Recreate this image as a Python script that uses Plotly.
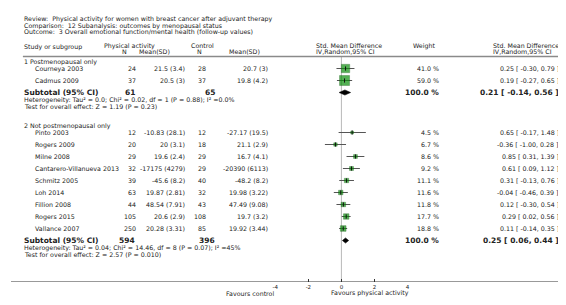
import plotly.graph_objects as go

W, H = 566, 305

# ---------------- data ----------------
review_txt = "Review:  Physical activity for women with breast cancer after adjuvant therapy"
comparison_txt = "Comparison:  12 Subanalysis: outcomes by menopausal status"
outcome_txt = "Outcome:  3 Overall emotional function/mental health (follow-up values)"

g1_title = "1 Postmenopausal only"
g1_studies = ["Courneya 2003", "Cadmus 2009"]
g1_pa_n = [24, 37]
g1_pa_mean = ["21.5 (3.4)", "20.5 (3)"]
g1_ct_n = [28, 37]
g1_ct_mean = ["20.7 (3)", "19.8 (4.2)"]
g1_weight = [41.0, 59.0]
g1_smd = [0.25, 0.19]
g1_lo = [-0.30, -0.27]
g1_hi = [0.79, 0.65]
g1_sub_n = [61, 65]
g1_sub_ci = [0.21, -0.14, 0.56]
g1_het = "Heterogeneity: Tau² = 0.0; Chi² = 0.02, df = 1 (P = 0.88); I² =0.0%"
g1_test = "Test for overall effect: Z = 1.19 (P = 0.23)"

g2_title = "2 Not postmenopausal only"
g2_studies = ["Pinto 2003", "Rogers 2009", "Milne 2008", "Cantarero-Villanueva 2013",
              "Schmitz 2005", "Loh 2014", "Fillion 2008", "Rogers 2015", "Vallance 2007"]
g2_pa_n = [12, 20, 29, 32, 39, 63, 44, 105, 250]
g2_pa_mean = ["-10.83 (28.1)", "20 (3.1)", "19.6 (2.4)", "-17175 (4279)", "-45.6 (8.2)",
              "19.87 (2.81)", "48.54 (7.91)", "20.6 (2.9)", "20.28 (3.31)"]
g2_ct_n = [12, 18, 29, 29, 40, 32, 43, 108, 85]
g2_ct_mean = ["-27.17 (19.5)", "21.1 (2.9)", "16.7 (4.1)", "-20390 (6113)", "-48.2 (8.2)",
              "19.98 (3.22)", "47.49 (9.08)", "19.7 (3.2)", "19.92 (3.44)"]
g2_weight = [4.5, 6.7, 8.6, 9.2, 11.1, 11.6, 11.8, 17.7, 18.8]
g2_smd = [0.65, -0.36, 0.85, 0.61, 0.31, -0.04, 0.12, 0.29, 0.11]
g2_lo = [-0.17, -1.00, 0.31, 0.09, -0.13, -0.46, -0.30, 0.02, -0.14]
g2_hi = [1.48, 0.28, 1.39, 1.12, 0.76, 0.39, 0.54, 0.56, 0.35]
g2_sub_n = [594, 396]
g2_sub_ci = [0.25, 0.06, 0.44]
g2_het = "Heterogeneity: Tau² = 0.04; Chi² = 14.46, df = 8 (P = 0.07); I² =45%"
g2_test = "Test for overall effect: Z = 2.57 (P = 0.010)"

x_ticks = [-4, -2, 0, 2, 4]
x_tick_labels = ["-4", "-2", "0", "2", "4"]
fav_left = "Favours control"
fav_right = "Favours physical activity"

# ---------------- layout helpers ----------------
FONT = "DejaVu Sans"
TXT = "#222222"
FS = 6.3      # normal text size
FSB = 7.5     # bold subtotal size
AX_BOTTOM = 274.0            # pixel row of the x axis line
X0_PX, X1_PX = 266.7, 400.0  # pixel span of axis range [-4, 4]

annotations = []
shapes = []
traces = []


def txt(x_px, y_px, s, anchor="left", size=FS, bold=False, yref="y"):
    if bold:
        s = "<b>" + s + "</b>"
    y = y_px if yref == "y" else 1 - y_px / H
    annotations.append(dict(
        x=x_px / W, xref="paper", y=y, yref=yref, text=s, showarrow=False,
        xanchor=anchor, yanchor="middle", borderpad=0,
        font=dict(family=FONT, size=size, color=TXT)))


# column positions (pixels)
C_NAME_GRP = 12
C_NAME = 23
C_PA_N = 127
C_PA_MEAN = 177
C_CT_N = 198
C_CT_MEAN = 260
C_WEIGHT = 433
C_CI = 554

# titles
txt(12, 11, review_txt)
txt(12, 17.5, comparison_txt)
txt(12, 24, outcome_txt)

# header
txt(12, 39, "Study or subgroup")
txt(93, 37.5, "Physical activity")
txt(115, 43.5, "N", anchor="center")
txt(161, 43.5, "Mean(SD)", anchor="right")
txt(181, 37.5, "Control")
txt(190, 43.5, "N", anchor="center")
txt(252, 43.5, "Mean(SD)", anchor="right")
txt(307, 37.5, "Std. Mean Difference")
txt(307, 43.5, "IV,Random,95% CI")
txt(405, 38, "Weight")
txt(485, 37.5, "Std. Mean Difference")
txt(485, 43.5, "IV,Random,95% CI")

shapes.append(dict(type="line", xref="paper", yref="y", x0=12 / W, x1=560 / W,
                   y0=48.5, y1=48.5, line=dict(color="#8a8a8a", width=1.5)))


def ci_text(e, l, h):
    return f"{e:.2f} [ {l:.2f}, {h:.2f} ]"


def group(y_title, title, studies, pan, pam, ctn, ctm, wt, smd, lo, hi, subn, subci, het, test):
    txt(C_NAME_GRP, y_title, title)
    ys = [y_title + 7 + 12 * i for i in range(len(studies))]
    for i, y in enumerate(ys):
        txt(C_NAME, y, studies[i])
        txt(C_PA_N, y, str(pan[i]), anchor="right")
        txt(C_PA_MEAN, y, pam[i], anchor="right")
        txt(C_CT_N, y, str(ctn[i]), anchor="right")
        txt(C_CT_MEAN, y, ctm[i], anchor="right")
        txt(C_WEIGHT, y, f"{wt[i]:.1f} %", anchor="right")
        txt(C_CI, y, ci_text(smd[i], lo[i], hi[i]), anchor="right")
        traces.append(go.Scatter(x=[lo[i], hi[i]], y=[y, y], mode="lines",
                                 line=dict(color="#555555", width=1), hoverinfo="skip"))
    traces.append(go.Scatter(
        x=smd, y=ys, mode="markers", hoverinfo="skip",
        marker=dict(symbol="square", color="#0b8f0b",
                    size=[1.3 * w ** 0.5 for w in wt],
                    line=dict(color="#045504", width=0.5))))
    traces.append(go.Scatter(
        x=smd, y=ys, mode="markers", hoverinfo="skip",
        marker=dict(symbol="line-ns", size=3, line=dict(color="#111111", width=1))))
    ysub = ys[-1] + 12
    txt(C_NAME_GRP, ysub, "Subtotal (95% CI)", size=FSB, bold=True)
    txt(C_PA_N - 1, ysub, str(subn[0]), anchor="right", size=FSB, bold=True)
    txt(C_CT_N + 9, ysub, str(subn[1]), anchor="right", size=FSB, bold=True)
    txt(C_WEIGHT, ysub, "100.0 %", anchor="right", size=FSB, bold=True)
    txt(C_CI, ysub, ci_text(*subci), anchor="right", size=FSB, bold=True)
    e, l, h = subci
    traces.append(go.Scatter(
        x=[l, e, h, e, l], y=[ysub, ysub - 2.6, ysub, ysub + 2.6, ysub],
        mode="lines", fill="toself", fillcolor="#000000",
        line=dict(color="#000000", width=0.5), hoverinfo="skip"))
    txt(C_NAME_GRP, ysub + 7, het)
    txt(C_NAME_GRP, ysub + 13.5, test)
    return ysub + 13.5


end1 = group(53.5, g1_title, g1_studies, g1_pa_n, g1_pa_mean, g1_ct_n, g1_ct_mean,
             g1_weight, g1_smd, g1_lo, g1_hi, g1_sub_n, g1_sub_ci, g1_het, g1_test)
group(end1 + 19.5, g2_title, g2_studies, g2_pa_n, g2_pa_mean, g2_ct_n, g2_ct_mean,
      g2_weight, g2_smd, g2_lo, g2_hi, g2_sub_n, g2_sub_ci, g2_het, g2_test)

# zero line
shapes.append(dict(type="line", xref="x", yref="y", x0=0, x1=0, y0=49, y1=AX_BOTTOM,
                   line=dict(color="#b8b8b8", width=1), layer="below"))
# full width axis line
shapes.append(dict(type="line", xref="paper", yref="y", x0=0, x1=1,
                   y0=AX_BOTTOM, y1=AX_BOTTOM, line=dict(color="#333333", width=1)))

txt(X0_PX, 285, fav_left, anchor="right", yref="paper")
txt(322, 285, fav_right, anchor="left", yref="paper")

fig = go.Figure(traces)
fig.update_layout(
    width=W, height=H, margin=dict(l=0, r=0, t=0, b=0),
    paper_bgcolor="white", plot_bgcolor="rgba(0,0,0,0)",
    showlegend=False, annotations=annotations, shapes=shapes,
    xaxis=dict(domain=[X0_PX / W, X1_PX / W], range=[-4, 4], tickvals=x_ticks,
               ticktext=x_tick_labels, ticks="inside", ticklen=3, tickcolor="#333333",
               tickfont=dict(family=FONT, size=5.5, color=TXT), showgrid=False,
               zeroline=False, showline=False, fixedrange=True),
    yaxis=dict(domain=[1 - AX_BOTTOM / H, 1], range=[AX_BOTTOM, 0], visible=False,
               showgrid=False, zeroline=False, fixedrange=True),
)
fig.write_html("out.html")
